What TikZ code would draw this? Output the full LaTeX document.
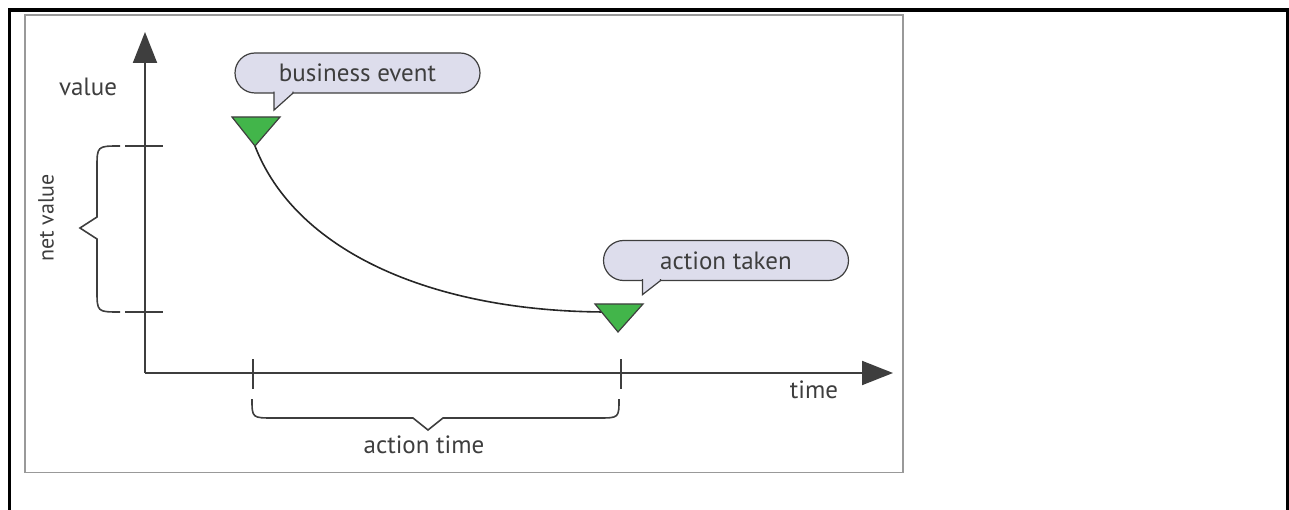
\documentclass[tikz,border=0pt]{standalone}
\usepackage{xcolor}
\usepackage{fontspec}
\setmainfont{PT Sans}
\usepackage{tikz}
\usetikzlibrary{arrows.meta, positioning}

\definecolor{bubblefill}{RGB}{221,221,236}
\definecolor{flaggreen}{RGB}{66,181,74}
\definecolor{inkgray}{RGB}{62,62,62}

\begin{document}
\begin{tikzpicture}[x=1pt, y=-1pt]
\tikzstyle{axislabel} = [text=inkgray, font=\fontsize{25}{28}\selectfont, inner sep=0pt]
\tikzstyle{bubble} = [rectangle, draw=inkgray, fill=bubblefill, rounded corners=20pt, minimum width=245pt, minimum height=40pt, line width=1.2pt, text=inkgray, font=\fontsize{25}{28}\selectfont]
\tikzstyle{tail} = [fill=bubblefill, draw=inkgray, line width=1.2pt]
\tikzstyle{axisline} = [line width=2pt, draw=inkgray, -{Triangle[length=31pt,width=24pt]}]
\tikzstyle{axistick} = [line width=1.6pt, draw=inkgray]
\tikzstyle{brace} = [line width=1.6pt, draw=inkgray]
\tikzstyle{flag} = [fill=flaggreen, draw=inkgray, line width=1.2pt]
\tikzstyle{curve} = [line width=1.6pt, draw=black!85]

\useasboundingbox (0,0) rectangle (1289,510);
% frames
\draw[line width=3.5pt] (9.5,512) -- (9.5,10) -- (1287.3,10) -- (1287.3,512);
\draw[black!40, line width=1.5pt] (25,15) rectangle (903,472.5);

% axes
\coordinate (o) at (145,373);
\coordinate (ytop) at (145,32);
\coordinate (xend) at (893,373);
\draw[axisline] (o) -- (ytop);
\draw[axisline] (o) -- (xend);

\node[axislabel] (yl) at (88,87) {value};
\node[axislabel] (xl) at (814,390) {time};
\node[axislabel, rotate=90, font=\fontsize{22}{26}\selectfont] (nv) at (46,218) {net value};
\node[axislabel] (at) at (424,445) {action time};

% ticks and braces
\draw[axistick] (125,146) -- (163,146);
\draw[axistick] (125,312) -- (163,312);
\draw[axistick] (253,359) -- (253,389);
\draw[axistick] (621,359) -- (621,389);
\draw[brace] (120,146) .. controls (97,146) .. (97,168) -- (97,217) -- (80,228) -- (97,239) -- (97,290) .. controls (97,312) .. (120,312);
\draw[brace] (252,399) .. controls (252,418) .. (274,418) -- (413,418) -- (428,430) -- (443,418) -- (598,418) .. controls (619,418) .. (619,399);

% events
\coordinate (ev) at (255,146);
\coordinate (ac) at (618,332);
\draw[curve] (ev) .. controls (295,250) and (430,312) .. (608,312);
\filldraw[flag] (ev) -- ++(-23,-29) -- ++(48,0) -- cycle;
\filldraw[flag] (ac) -- ++(-23,-28) -- ++(48,0) -- cycle;

\node[bubble] (evbub) at (357.5,73) {business event};
\node[bubble] (acbub) at (726,260.5) {action taken};
\filldraw[tail] ([xshift=39.6pt, yshift=2pt]evbub.south west) -- ++(0,18.5) -- ++(19,-17) -- ++(0,-1.5);
\filldraw[tail] ([xshift=39.6pt, yshift=2pt]acbub.south west) -- ++(0,15.5) -- ++(18,-14) -- ++(0,-1.5);

\end{tikzpicture}
\end{document}
